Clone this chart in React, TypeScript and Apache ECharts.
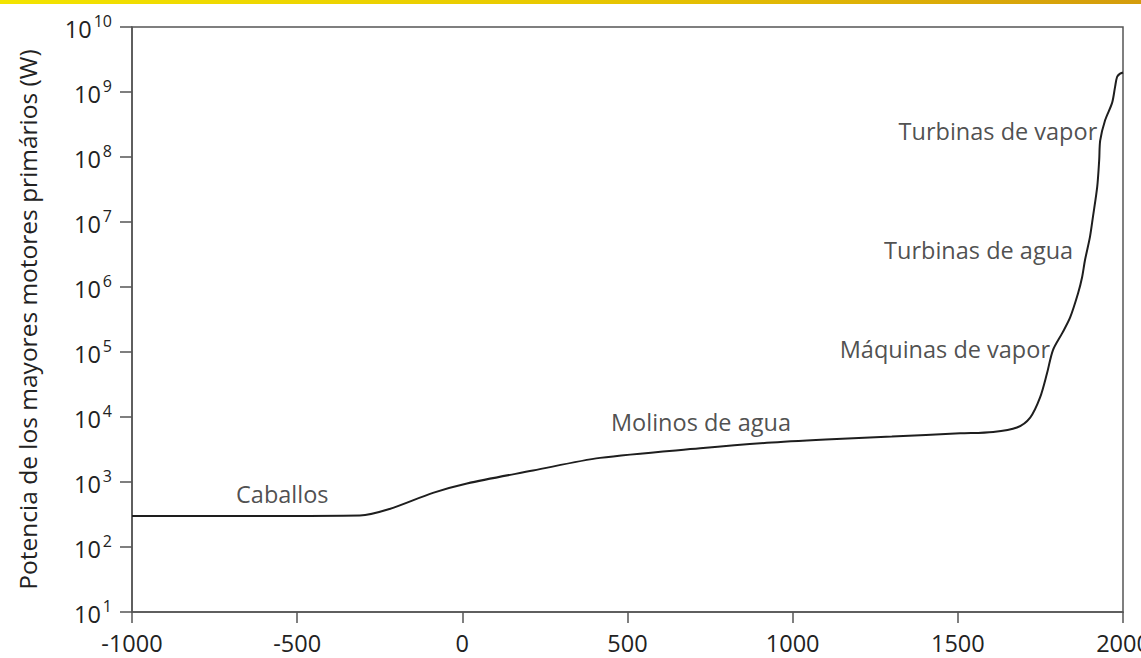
import React, { useEffect, useRef } from "react";
import * as echarts from "echarts";

const years = [-1000, -600, -310, -220, -89, 14, 214, 417, 720, 922, 1100, 1300, 1507, 1607, 1679, 1719, 1749, 1770, 1788, 1816, 1840, 1864, 1876, 1885, 1900, 1909, 1922, 1928, 1931, 1946, 1967, 1976, 1982, 1990, 2000];
const power = [300, 300, 305, 385, 680, 950, 1500, 2350, 3300, 4000, 4500, 5000, 5600, 5900, 6900, 9800, 20000, 47000, 107000, 195000, 340000, 800000, 1400000, 2600000, 5900000, 12000000, 35000000, 91000000, 180000000, 370000000, 680000000, 1200000000, 1700000000, 1900000000, 2000000000];

const labelTexts = ["Caballos", "Molinos de agua", "Máquinas de vapor", "Turbinas de agua", "Turbinas de vapor"];
const labelYears = [-685, 450, 1779, 1849, 1922];
const labelValues = [650, 8500, 110000, 3700000, 250000000];
const labelSide = ["right", "right", "left", "left", "left"];

const xTicks = [-1000, -500, 0, 500, 1000, 1500, 2000];

const FONT = "'Open Sans', sans-serif";
const TXT = "#222";

export default function App() {
  const ref = useRef<HTMLDivElement>(null);
  useEffect(() => {
    if (!ref.current) return;
    const chart = echarts.init(ref.current, null, { renderer: "svg" });
    const lineData = years.map((y, i) => [y, power[i]]);
    const labelData = labelTexts.map((t, i) => ({
      name: t,
      value: [labelYears[i], labelValues[i]],
      label: { position: labelSide[i] as any, distance: 0 },
    }));
    chart.setOption({
      animation: false,
      backgroundColor: "#ffffff",
      grid: {
        left: 132,
        right: 18,
        top: 27,
        bottom: 46,
        show: true,
        borderColor: "#555",
        borderWidth: 1.5,
        backgroundColor: "transparent",
        containLabel: false,
        outerBoundsMode: "none",
      },
      graphic: [
        {
          type: "rect",
          left: 0,
          top: 0,
          shape: { width: 1141, height: 4 },
          style: {
            fill: new echarts.graphic.LinearGradient(0, 0, 1, 0, [
              { offset: 0, color: "#f3e400" },
              { offset: 0.5, color: "#e8c800" },
              { offset: 1, color: "#d49c0c" },
            ]),
          },
          silent: true,
        },
      ],
      xAxis: {
        type: "value",
        min: xTicks[0],
        max: xTicks[xTicks.length - 1],
        interval: 500,
        axisLine: { show: true, onZero: false, lineStyle: { color: "#555", width: 1.5 } },
        axisTick: { show: true, inside: false, length: 11, lineStyle: { color: "#555", width: 1.5 } },
        splitLine: { show: false },
        axisLabel: {
          fontFamily: FONT,
          fontSize: 23.5,
          color: TXT,
          margin: 19,
          showMinLabel: true,
          showMaxLabel: true,
          formatter: (v: number) => String(v),
        },
      },
      yAxis: {
        type: "log",
        logBase: 10,
        min: 10,
        max: 1e10,
        splitNumber: 9,
        name: "Potencia de los mayores motores primários (W)",
        nameLocation: "middle",
        nameGap: 92,
        nameTextStyle: { fontFamily: FONT, fontSize: 24.5, color: TXT },
        axisLine: { show: true, onZero: false, lineStyle: { color: "#555", width: 1.5 } },
        axisTick: { show: true, inside: false, length: 12, lineStyle: { color: "#555", width: 1.5 } },
        splitLine: { show: false },
        axisLabel: {
          margin: 20,
          formatter: (v: number) => `{b|10}{s|${Math.round(Math.log10(v))}}`,
          rich: {
            b: { fontFamily: FONT, fontSize: 23.5, color: TXT, lineHeight: 28, verticalAlign: "bottom" },
            s: { fontFamily: FONT, fontSize: 16, color: TXT, lineHeight: 16, verticalAlign: "top", padding: [0, 0, 0, 2] },
          },
        },
      },
      series: [
        {
          type: "line",
          data: lineData,
          showSymbol: false,
          smooth: 0.3,
          lineStyle: { color: "#1e1e1e", width: 2 },
          silent: true,
        },
        {
          type: "scatter",
          data: labelData,
          symbolSize: 0,
          silent: true,
          label: {
            show: true,
            formatter: (p: any) => p.name,
            fontFamily: FONT,
            fontSize: 23.5,
            color: TXT,
          },
        },
      ],
    });
    return () => chart.dispose();
  }, []);
  return (
    <div
      ref={ref}
      style={{ position: "fixed", left: 0, top: 0, width: 1141, height: 658 }}
    />
  );
}
